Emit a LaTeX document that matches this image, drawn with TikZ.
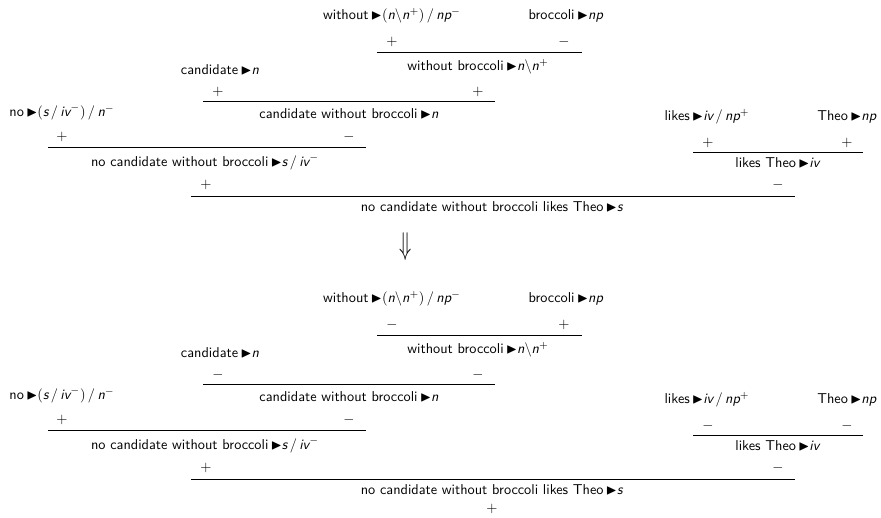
\documentclass[tikz,border=0pt]{standalone}
\usepackage{amssymb}
\renewcommand{\familydefault}{\sfdefault}
\usetikzlibrary{positioning}
\tikzset{
  judg/.style = {inner sep=1pt, font=\sffamily},
  pol/.style  = {inner sep=0pt, font=\sffamily},
  rule/.style = {draw, line width=0.6pt}
}
\newcommand{\cat}[1]{\textsf{\itshape #1}}
\newcommand{\tri}{\,$\blacktriangleright$}

\begin{document}
\begin{tikzpicture}[x=0.7pt, y=-0.7pt]
  \useasboundingbox (0,0) rectangle (881,517);

  % the two proof trees, before and after the polarity flip
  \foreach \t/\dy/\wa/\wb/\ca/\cb/\na/\nb/\la/\lb/\fa/\fb in
    {1/0/+/-/+/+/+/-/+/+/+/-, 2/283/-/+/-/-/+/-/-/-/+/-}{
    \begin{scope}[yshift=-\dy*0.7pt]
      % leaves and conclusions
      \node[judg] (without\t) at (392,16) {without\tri$(\cat{n}\backslash\cat{n}^{+})\,/\,\cat{np}^{-}$};
      \node[judg] (broccoli\t) at (566,16) {broccoli\tri\cat{np}};
      \node[judg] (wb\t) at (478,67) {without broccoli\tri$\cat{n}\backslash\cat{n}^{+}$};
      \node[judg] (cand\t) at (220,70) {candidate\tri\cat{n}};
      \node[judg] (cwb\t) at (349,114) {candidate without broccoli\tri\cat{n}};
      \node[judg] (no\t) at (62,112) {no\tri$(\cat{s}\,/\,\cat{iv}^{-})\,/\,\cat{n}^{-}$};
      \node[judg] (ncwb\t) at (205,162) {no candidate without broccoli\tri$\cat{s}\,/\,\cat{iv}^{-}$};
      \node[judg] (likes\t) at (707,117) {likes\tri$\cat{iv}\,/\,\cat{np}^{+}$};
      \node[judg] (theo\t) at (847,117) {Theo\tri\cat{np}};
      \node[judg] (lt\t) at (778,163) {likes Theo\tri\cat{iv}};
      \node[judg] (all\t) at (492,207) {no candidate without broccoli likes Theo\tri\cat{s}};

      % polarity marks
      \node[pol] (pwa\t) at (392,42) {$\wa$};
      \node[pol] (pwb\t) at (564,42) {$\wb$};
      \node[pol] (pca\t) at (218,92) {$\ca$};
      \node[pol] (pcb\t) at (478,92) {$\cb$};
      \node[pol] (pna\t) at (62,137) {$\na$};
      \node[pol] (pnb\t) at (349,137) {$\nb$};
      \node[pol] (pla\t) at (708,143) {$\la$};
      \node[pol] (plb\t) at (847,143) {$\lb$};
      \node[pol] (pfa\t) at (206,185) {$\fa$};
      \node[pol] (pfb\t) at (778,185) {$\fb$};

      % inference lines
      \coordinate (rwa\t) at (377,52);  \coordinate (rwb\t) at (582,52);
      \coordinate (rca\t) at (203,101); \coordinate (rcb\t) at (495,101);
      \coordinate (rna\t) at (48,147);  \coordinate (rnb\t) at (366,147);
      \coordinate (rla\t) at (693,152); \coordinate (rlb\t) at (863,152);
      \coordinate (rfa\t) at (191,196); \coordinate (rfb\t) at (795,196);
      \foreach \r in {w,c,n,l,f}
        \draw[rule] (r\r a\t) -- (r\r b\t);
    \end{scope}
  }

  \node[pol, xscale=1.4, yscale=2.2] (flip) at (406,247) {$\Downarrow$};
  \node[pol] (pall2) at (492,509) {$+$};
\end{tikzpicture}
\end{document}
